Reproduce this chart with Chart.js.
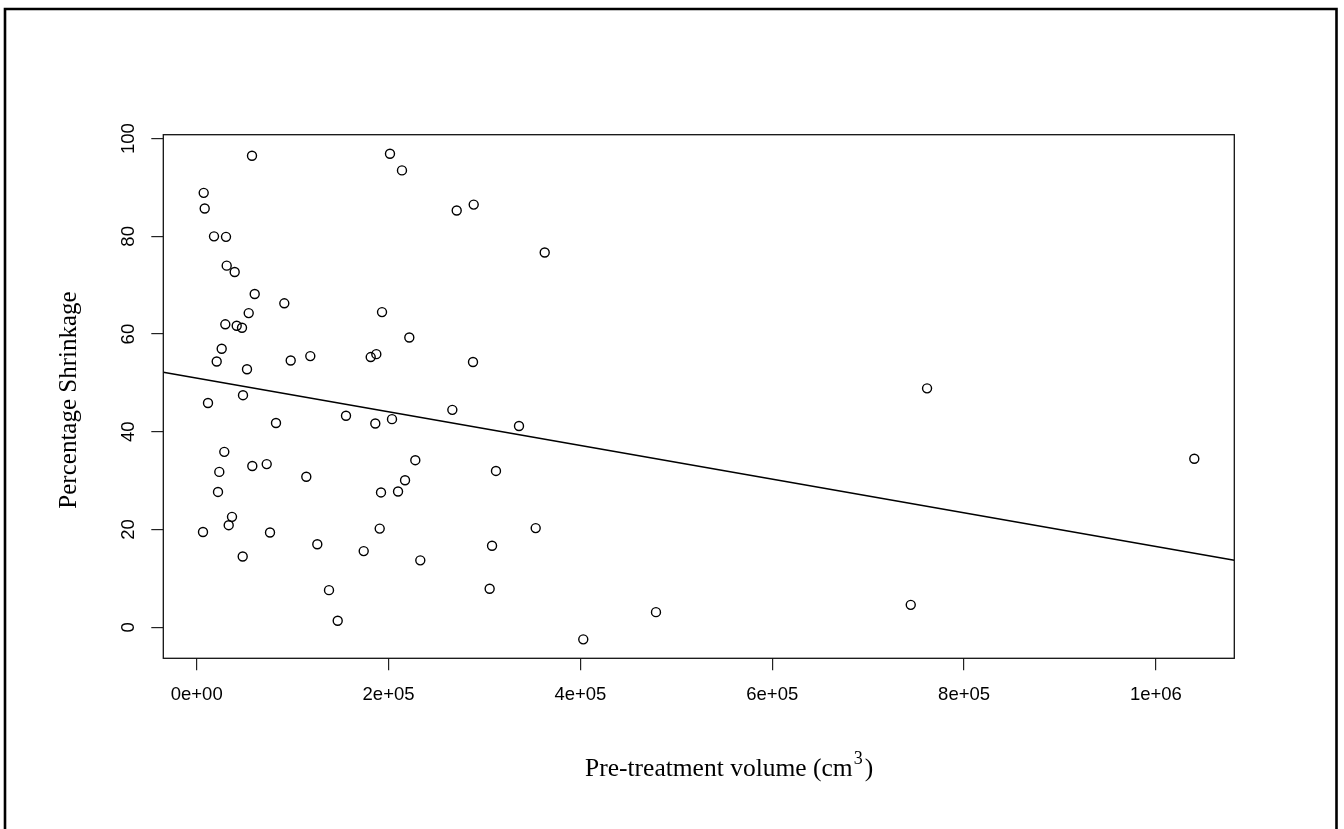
<!DOCTYPE html>
<html>
<head>
<meta charset="utf-8">
<script src="https://cdn.jsdelivr.net/npm/chart.js@4.4.0/dist/chart.umd.min.js"></script>
<style>
  body { margin: 0; background: #fff; }
  canvas { display: block; }
</style>
</head>
<body>
<canvas id="shrinkChart" width="1344" height="829"></canvas>
<script>
// values
const volume = [
  57650, 201500, 214000, 7300, 8340, 18040, 30550, 31270, 39600, 60470,
  91330, 193200, 54210, 29820, 41700, 47230, 26060, 20850, 98000, 118430,
  181400, 187250, 52440, 48270, 271060, 288780, 362800, 221650, 288050, 11780,
  82670, 155650, 186200, 203600, 28770, 23560, 57970, 72980, 114260, 22210,
  192140, 209900, 36800, 33360, 6570, 76420, 190780, 125730, 174100, 47960,
  137930, 147000, 266500, 336000, 227900, 217200, 312000, 353400, 307900, 233100,
  305400, 403000, 761400, 1040000, 744400, 478800
];
const shrinkage = [
  96.5, 96.9, 93.5, 88.9, 85.7, 80.0, 79.9, 74.0, 72.7, 68.2,
  66.3, 64.5, 64.3, 62.0, 61.7, 61.3, 57.0, 54.4, 54.6, 55.5,
  55.3, 55.9, 52.8, 47.5, 85.3, 86.5, 76.7, 59.3, 54.3, 45.9,
  41.8, 43.3, 41.7, 42.6, 35.9, 31.8, 33.0, 33.4, 30.8, 27.7,
  27.6, 27.8, 22.6, 20.9, 19.5, 19.4, 20.2, 17.0, 15.6, 14.5,
  7.6, 1.35, 44.5, 41.2, 34.2, 30.1, 32.0, 20.3, 16.7, 13.7,
  7.9, -2.46, 48.9, 34.5, 4.6, 3.1
];

// axis limits (R adds 4% on each side of the data range)
const xMin = -34820, xMax = 1081700;
const yMin = -6.34, yMax = 100.8;

// fitted line, read at the two plot edges
const fitX = [xMin, xMax];
const fitY = [52.2, 13.7];

const xTicks = [0, 200000, 400000, 600000, 800000, 1000000];
const xTickLabels = ["0e+00", "2e+05", "4e+05", "6e+05", "8e+05", "1e+06"];
const yTicks = [0, 20, 40, 60, 80, 100];
const yTickLabels = ["0", "20", "40", "60", "80", "100"];

const xTitle = "Pre-treatment volume (cm";
const xTitleSup = "3";
const yTitle = "Percentage Shrinkage";

const points = volume.map((v, i) => ({ x: v, y: shrinkage[i] }));
const fitLine = fitX.map((v, i) => ({ x: v, y: fitY[i] }));

const serif = "'Liberation Serif', 'Times New Roman', serif";
const sans = "'Liberation Sans', Arial, sans-serif";

// draws the R-like frame, tick labels and titles
const rStyle = {
  id: "rStyle",
  afterDraw(chart) {
    const ctx = chart.ctx;
    const area = chart.chartArea;
    const xs = chart.scales.x;
    const ys = chart.scales.y;
    ctx.save();

    ctx.strokeStyle = "#111";
    ctx.lineWidth = 1.3;
    ctx.strokeRect(area.left, area.top, area.right - area.left, area.bottom - area.top);

    ctx.fillStyle = "#000";
    ctx.font = "18.5px " + sans;
    ctx.textAlign = "center";
    ctx.textBaseline = "middle";
    xTicks.forEach((v, i) => {
      ctx.fillText(xTickLabels[i], xs.getPixelForValue(v), 695);
    });
    yTicks.forEach((v, i) => {
      ctx.save();
      ctx.translate(128.5, ys.getPixelForValue(v));
      ctx.rotate(-Math.PI / 2);
      ctx.fillText(yTickLabels[i], 0, 0);
      ctx.restore();
    });

    // x title with superscript
    ctx.textAlign = "left";
    ctx.textBaseline = "alphabetic";
    ctx.font = "25.5px " + serif;
    let tx = 585;
    const base = 776;
    ctx.fillText(xTitle, tx, base);
    tx += ctx.measureText(xTitle).width + 1;
    ctx.font = "18px " + serif;
    ctx.fillText(xTitleSup, tx, base - 12);
    tx += ctx.measureText(xTitleSup).width + 2;
    ctx.font = "25.5px " + serif;
    ctx.fillText(")", tx, base);

    // y title
    ctx.save();
    ctx.translate(69, 400);
    ctx.rotate(-Math.PI / 2);
    ctx.textAlign = "center";
    ctx.textBaseline = "middle";
    ctx.font = "25px " + serif;
    ctx.fillText(yTitle, 0, 0);
    ctx.restore();

    // outer frame
    ctx.strokeStyle = "#000";
    ctx.lineWidth = 2.6;
    ctx.beginPath();
    ctx.moveTo(5, 840);
    ctx.lineTo(5, 9);
    ctx.lineTo(1336.5, 9);
    ctx.lineTo(1336.5, 840);
    ctx.stroke();

    ctx.restore();
  }
};

const ctx = document.getElementById("shrinkChart").getContext("2d");
const shrinkChart = new Chart(ctx, {
  type: "scatter",
  data: {
    datasets: [
      {
        label: "Shrinkage",
        data: points,
        pointStyle: "circle",
        pointRadius: 4.5,
        pointBorderWidth: 1.4,
        borderColor: "#000",
        backgroundColor: "rgba(0,0,0,0)",
      },
      {
        type: "line",
        label: "Fit",
        data: fitLine,
        borderColor: "#000",
        borderWidth: 1.5,
        pointRadius: 0,
        fill: false,
      },
    ],
  },
  options: {
    responsive: false,
    animation: false,
    devicePixelRatio: 1,
    layout: {
      padding: { top: 134.7, left: 63.3, right: 109.7, bottom: 70.7 },
    },
    plugins: {
      legend: { display: false },
      tooltip: { enabled: false },
    },
    scales: {
      x: {
        type: "linear",
        min: xMin,
        max: xMax,
        afterBuildTicks: (scale) => {
          scale.ticks = xTicks.map((v) => ({ value: v }));
        },
        afterFit: (scale) => {
          scale.height = 100;
        },
        ticks: { display: false },
        border: { display: false },
        grid: {
          drawOnChartArea: false,
          drawTicks: true,
          tickLength: 12,
          color: "#222",
          lineWidth: 1.2,
        },
      },
      y: {
        type: "linear",
        min: yMin,
        max: yMax,
        afterBuildTicks: (scale) => {
          scale.ticks = yTicks.map((v) => ({ value: v }));
        },
        afterFit: (scale) => {
          scale.width = 100;
        },
        ticks: { display: false },
        border: { display: false },
        grid: {
          drawOnChartArea: false,
          drawTicks: true,
          tickLength: 12,
          color: "#222",
          lineWidth: 1.2,
        },
      },
    },
  },
  plugins: [rStyle],
});
</script>
</body>
</html>
